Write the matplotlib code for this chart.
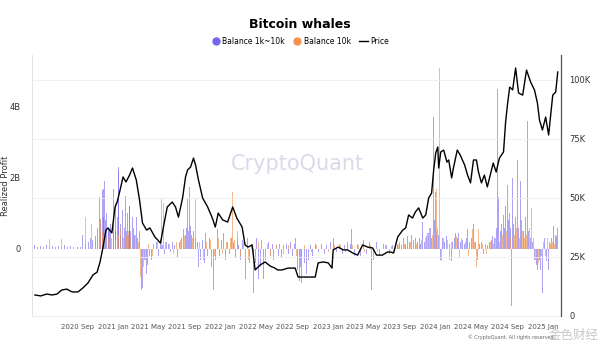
import numpy as np
import pandas as pd
import matplotlib.pyplot as plt
import matplotlib.dates as mdates
from matplotlib.lines import Line2D
from matplotlib.ticker import FuncFormatter

plt.rcParams['font.family'] = ['DejaVu Sans', 'Noto Sans CJK SC']

# BTC price (USD)
price_dates = [
    '2020-04-11', '2020-05-01', '2020-05-21', '2020-06-08', '2020-06-25', '2020-07-11', '2020-07-28',
    '2020-08-15', '2020-09-04', '2020-09-21', '2020-10-08', '2020-10-25', '2020-11-08', '2020-11-18',
    '2020-11-28', '2020-12-08', '2020-12-15', '2020-12-28', '2021-01-08', '2021-01-15', '2021-01-25',
    '2021-02-04', '2021-02-14', '2021-02-26', '2021-03-08', '2021-03-21', '2021-04-01', '2021-04-11',
    '2021-04-25', '2021-05-06', '2021-05-23', '2021-06-11', '2021-06-21', '2021-07-04', '2021-07-21',
    '2021-08-01', '2021-08-11', '2021-08-25', '2021-09-04', '2021-09-11', '2021-09-21', '2021-10-01',
    '2021-10-08', '2021-10-18', '2021-11-01', '2021-11-18', '2021-12-04', '2021-12-14', '2021-12-24',
    '2022-01-08', '2022-01-25', '2022-02-11', '2022-02-25', '2022-03-15', '2022-03-25', '2022-04-04',
    '2022-04-18', '2022-04-28', '2022-05-15', '2022-06-01', '2022-06-18', '2022-07-04', '2022-07-14',
    '2022-07-28', '2022-08-18', '2022-09-11', '2022-09-21', '2022-10-08', '2022-11-01', '2022-11-18',
    '2022-11-28', '2022-12-15', '2023-01-01', '2023-01-14', '2023-01-18', '2023-02-04', '2023-02-21',
    '2023-03-08', '2023-03-25', '2023-04-11', '2023-04-28', '2023-05-15', '2023-06-01', '2023-06-14',
    '2023-07-04', '2023-07-21', '2023-08-01', '2023-08-11', '2023-08-25', '2023-09-11', '2023-09-21',
    '2023-10-01', '2023-10-14', '2023-10-24', '2023-11-04', '2023-11-18', '2023-11-28', '2023-12-08',
    '2023-12-18', '2023-12-25', '2024-01-01', '2024-01-08', '2024-01-11', '2024-01-18', '2024-01-28',
    '2024-02-08', '2024-02-14', '2024-02-24', '2024-03-01', '2024-03-14', '2024-03-24', '2024-04-08',
    '2024-04-18', '2024-04-28', '2024-05-08', '2024-05-18', '2024-05-25', '2024-06-04', '2024-06-14',
    '2024-06-24', '2024-07-04', '2024-07-14', '2024-07-24', '2024-08-04', '2024-08-18', '2024-08-25',
    '2024-09-01', '2024-09-08', '2024-09-18', '2024-09-28', '2024-10-08', '2024-10-22', '2024-11-04',
    '2024-11-18', '2024-12-01', '2024-12-11', '2024-12-18', '2024-12-28', '2025-01-08', '2025-01-18',
    '2025-02-01', '2025-02-11', '2025-02-18',
]
price = [
    8900, 8500, 9300, 8900, 9300, 11000, 11400,
    10200, 10200, 11900, 14000, 17400, 18600, 22900,
    29200, 36400, 37300, 35200, 46200, 48300, 53400,
    58900, 56800, 59700, 62700, 57600, 49100, 39400,
    36400, 37300, 33500, 30900, 37700, 46200, 48300,
    46200, 41900, 50000, 58900, 61900, 63100, 66900,
    64000, 57600, 50000, 46200, 41500, 37700, 43600,
    40700, 39800, 46200, 41500, 37700, 30100, 29200,
    30100, 19500, 21600, 22900, 21200, 20300, 19500,
    19500, 20300, 20300, 16500, 16500, 16500, 16500,
    22500, 22900, 22500, 20300, 28000, 29200, 28000,
    28000, 26700, 25800, 30100, 29200, 28800, 25800,
    25800, 27100, 27100, 26700, 33500, 36400, 37300,
    42800, 41500, 44100, 45800, 41500, 42800, 50000,
    52100, 61900, 69100, 71600, 62700, 69500, 70300,
    65200, 66100, 58500, 62700, 70300, 68200, 64000,
    59700, 56400, 66100, 66100, 61000, 56400, 59700,
    54700, 59700, 64800, 61000, 66900, 69500, 82200,
    90200, 97000, 95800, 105100, 94500, 93600, 104200,
    99100, 95800, 90200, 83000, 78800, 84300, 76700,
    93600, 94900, 103400,
]

# Realized profit, Balance 1k~10k (billions USD)
mid_dates = [
    '2020-04-11', '2020-04-21', '2020-05-01', '2020-05-11', '2020-05-21', '2020-06-01', '2020-06-11',
    '2020-06-21', '2020-07-01', '2020-07-11', '2020-07-21', '2020-08-01', '2020-08-11', '2020-08-21',
    '2020-09-01', '2020-09-11', '2020-09-21', '2020-10-01', '2020-10-11', '2020-10-18', '2020-10-25',
    '2020-11-01', '2020-11-08', '2020-11-15', '2020-11-18', '2020-11-21', '2020-11-25', '2020-11-28',
    '2020-12-01', '2020-12-04', '2020-12-08', '2020-12-11', '2020-12-15', '2020-12-18', '2020-12-21',
    '2020-12-25', '2021-01-01', '2021-01-04', '2021-01-08', '2021-01-11', '2021-01-15', '2021-01-18',
    '2021-01-21', '2021-01-25', '2021-01-28', '2021-02-01', '2021-02-08', '2021-02-11', '2021-02-15',
    '2021-02-18', '2021-02-21', '2021-02-25', '2021-02-27', '2021-03-01', '2021-03-08', '2021-03-11',
    '2021-03-15', '2021-03-21', '2021-03-25', '2021-04-01', '2021-04-08', '2021-04-11', '2021-04-18',
    '2021-04-25', '2021-04-28', '2021-05-06', '2021-05-13', '2021-05-20', '2021-05-27', '2021-06-04',
    '2021-06-11', '2021-06-18', '2021-06-25', '2021-07-01', '2021-07-08', '2021-07-15', '2021-07-21',
    '2021-07-28', '2021-08-08', '2021-08-15', '2021-08-21', '2021-08-28', '2021-09-04', '2021-09-08',
    '2021-09-11', '2021-09-15', '2021-09-18', '2021-09-21', '2021-09-25', '2021-10-01', '2021-10-08',
    '2021-10-15', '2021-10-18', '2021-10-25', '2021-11-01', '2021-11-08', '2021-11-11', '2021-11-18',
    '2021-11-25', '2021-12-01', '2021-12-08', '2021-12-15', '2021-12-21', '2021-12-28', '2022-01-04',
    '2022-01-11', '2022-01-18', '2022-01-25', '2022-02-01', '2022-02-08', '2022-02-15', '2022-02-21',
    '2022-02-26', '2022-03-04', '2022-03-11', '2022-03-18', '2022-03-25', '2022-04-01', '2022-04-08',
    '2022-04-15', '2022-04-21', '2022-04-28', '2022-05-04', '2022-05-08', '2022-05-15', '2022-05-21',
    '2022-05-28', '2022-06-04', '2022-06-11', '2022-06-18', '2022-06-25', '2022-07-01', '2022-07-08',
    '2022-07-15', '2022-07-21', '2022-07-28', '2022-08-04', '2022-08-11', '2022-08-18', '2022-08-25',
    '2022-09-01', '2022-09-08', '2022-09-11', '2022-09-18', '2022-09-25', '2022-09-28', '2022-10-04',
    '2022-10-11', '2022-10-18', '2022-10-25', '2022-11-01', '2022-11-08', '2022-11-18', '2022-11-28',
    '2022-12-08', '2022-12-18', '2022-12-28', '2023-01-08', '2023-01-18', '2023-01-28', '2023-02-08',
    '2023-02-18', '2023-02-27', '2023-03-08', '2023-03-18', '2023-03-21', '2023-04-01', '2023-04-11',
    '2023-04-21', '2023-05-01', '2023-05-11', '2023-05-21', '2023-05-28', '2023-06-04', '2023-06-14',
    '2023-06-25', '2023-07-08', '2023-07-18', '2023-07-28', '2023-08-08', '2023-08-18', '2023-08-25',
    '2023-09-01', '2023-09-08', '2023-09-15', '2023-09-21', '2023-09-28', '2023-10-04', '2023-10-11',
    '2023-10-18', '2023-10-25', '2023-11-01', '2023-11-08', '2023-11-11', '2023-11-18', '2023-11-25',
    '2023-12-01', '2023-12-08', '2023-12-15', '2023-12-18', '2023-12-25', '2023-12-28', '2024-01-01',
    '2024-01-04', '2024-01-11', '2024-01-18', '2024-01-25', '2024-02-01', '2024-02-08', '2024-02-15',
    '2024-02-22', '2024-02-28', '2024-03-04', '2024-03-08', '2024-03-14', '2024-03-18', '2024-03-25',
    '2024-04-01', '2024-04-08', '2024-04-15', '2024-04-18', '2024-04-25', '2024-05-01', '2024-05-08',
    '2024-05-15', '2024-05-21', '2024-05-28', '2024-06-04', '2024-06-11', '2024-06-18', '2024-06-25',
    '2024-07-01', '2024-07-08', '2024-07-11', '2024-07-18', '2024-07-25', '2024-07-28', '2024-08-01',
    '2024-08-08', '2024-08-11', '2024-08-18', '2024-08-21', '2024-08-25', '2024-09-01', '2024-09-04',
    '2024-09-08', '2024-09-11', '2024-09-15', '2024-09-18', '2024-09-21', '2024-09-28', '2024-10-04',
    '2024-10-08', '2024-10-15', '2024-10-18', '2024-10-25', '2024-11-01', '2024-11-08', '2024-11-11',
    '2024-11-18', '2024-11-25', '2024-12-01', '2024-12-08', '2024-12-11', '2024-12-18', '2024-12-21',
    '2024-12-28', '2025-01-04', '2025-01-11', '2025-01-18', '2025-01-21', '2025-01-28', '2025-02-04',
    '2025-02-11', '2025-02-14', '2025-02-18',
]
mid_profit = [
    0.12, 0.06, 0.08, 0.05, 0.10, 0.04, 0.07,
    0.05, 0.09, 0.06, 0.10, 0.05, 0.07, 0.04,
    0.06, 0.05, 0.40, 0.15, 0.20, 0.30, 0.25,
    0.35, 0.60, 1.45, 0.85, 0.70, 1.65, 1.70,
    0.90, 1.90, 0.80, 1.00, 0.60, 0.50, 0.55,
    0.70, 1.70, 0.60, 1.30, 0.50, 0.90, 2.30,
    2.20, 0.70, 0.40, 1.10, 0.60, 1.50, 0.50,
    1.00, 0.40, 1.20, 1.20, 0.50, 0.90, 0.60,
    0.40, 0.90, 0.30, 0.50, -1.15, -1.10, -0.30,
    -0.70, -0.45, -0.20, -0.30, 0.15, 0.20, -0.20,
    0.25, 0.10, -0.15, 0.20, 0.15, -0.10, 0.20,
    0.10, -0.25, 0.20, 0.30, 0.55, 0.40, 0.60,
    1.40, 0.50, 1.75, 0.65, 0.40, 0.50, 0.30,
    0.20, -0.50, -0.30, 0.25, -0.40, 0.45, -0.20,
    0.30, -0.50, -1.15, -0.30, 0.55, -0.20, 0.25,
    0.45, -0.30, 0.20, -0.15, 0.30, 0.20, -0.25,
    0.30, 0.10, -0.30, 0.25, -0.85, 0.30, -0.40,
    0.15, -1.25, -0.40, 0.30, -0.85, -0.50, 0.25,
    -0.85, -0.30, 0.20, -0.20, 0.15, -0.30, 0.10,
    -0.20, 0.15, -0.25, 0.10, 0.15, -0.15, 0.20,
    -0.20, 0.15, 0.30, -0.60, -0.90, -0.50, -0.95,
    -0.40, -0.70, -0.30, 0.10, -0.20, 0.15, -0.10,
    0.15, -0.15, 0.10, 0.20, 0.30, -0.10, 0.15,
    -0.15, 0.10, 0.20, 0.15, 0.55, -0.20, 0.15,
    -0.20, 0.25, -0.15, 0.20, -1.15, -0.30, 0.20,
    -0.20, 0.15, 0.10, -0.15, 0.10, 0.08, 0.15,
    0.20, 0.10, 0.30, 0.15, 0.35, 0.20, 0.40,
    0.25, 0.30, 0.20, 0.30, 0.15, 0.75, 0.20,
    0.35, 0.45, 0.60, 0.30, 3.70, 0.80, 1.60,
    0.50, 0.40, -0.30, 0.30, 0.20, 0.35, 0.15,
    -0.35, 0.20, 0.30, 0.45, 0.30, 0.45, 0.20,
    0.25, 0.15, 0.30, 0.55, 0.20, 0.30, 0.70,
    0.20, -0.30, 0.15, 0.20, -0.15, 0.15, 0.10,
    0.20, 0.25, 0.35, 0.30, 0.60, 4.50, 1.45,
    0.50, 0.70, 0.95, 0.60, 1.20, 1.80, 0.80,
    1.00, 0.60, -1.60, 2.00, 0.70, 0.90, 2.50,
    0.60, 1.90, 0.80, 0.50, 0.90, 3.60, 0.50,
    0.30, 0.20, -0.30, -0.45, -0.60, -0.30, -0.60,
    -1.25, 0.30, -0.35, -0.60, 0.20, 0.30, 0.65,
    0.40, 0.35, 0.60,
]

# Realized profit, Balance 10k (billions USD)
big_dates = [
    '2020-06-01', '2020-07-11', '2020-09-28', '2020-10-21', '2020-11-01', '2020-11-11', '2020-11-18',
    '2020-11-25', '2020-12-01', '2020-12-08', '2020-12-15', '2020-12-21', '2020-12-28', '2021-01-04',
    '2021-01-11', '2021-01-18', '2021-01-28', '2021-02-04', '2021-02-15', '2021-02-21', '2021-03-01',
    '2021-03-11', '2021-03-18', '2021-03-28', '2021-04-04', '2021-04-15', '2021-04-21', '2021-05-02',
    '2021-05-16', '2021-06-01', '2021-06-14', '2021-06-21', '2021-06-28', '2021-07-11', '2021-07-25',
    '2021-08-04', '2021-08-18', '2021-09-01', '2021-09-28', '2021-10-08', '2021-10-21', '2021-11-04',
    '2021-11-14', '2021-11-28', '2021-12-11', '2021-12-24', '2022-01-08', '2022-01-21', '2022-02-04',
    '2022-02-11', '2022-02-18', '2022-02-26', '2022-03-08', '2022-03-21', '2022-04-04', '2022-04-18',
    '2022-05-01', '2022-05-11', '2022-05-25', '2022-06-08', '2022-06-21', '2022-07-11', '2022-08-01',
    '2022-08-21', '2022-09-14', '2022-10-01', '2022-10-14', '2022-11-04', '2022-11-21', '2022-12-11',
    '2023-01-01', '2023-01-21', '2023-02-11', '2023-03-01', '2023-03-25', '2023-04-14', '2023-05-04',
    '2023-05-25', '2023-06-18', '2023-07-14', '2023-08-04', '2023-08-28', '2023-09-18', '2023-10-08',
    '2023-10-28', '2023-11-14', '2023-11-28', '2023-12-04', '2023-12-11', '2023-12-21', '2024-01-04',
    '2024-01-08', '2024-01-14', '2024-01-21', '2024-01-28', '2024-02-11', '2024-02-18', '2024-02-25',
    '2024-03-11', '2024-03-21', '2024-03-28', '2024-04-11', '2024-04-21', '2024-05-04', '2024-05-11',
    '2024-05-18', '2024-05-25', '2024-06-08', '2024-06-21', '2024-07-04', '2024-07-14', '2024-07-21',
    '2024-08-04', '2024-08-14', '2024-08-28', '2024-09-11', '2024-09-25', '2024-10-01', '2024-10-11',
    '2024-10-21', '2024-10-28', '2024-11-04', '2024-11-14', '2024-11-21', '2024-11-28', '2024-12-04',
    '2024-12-14', '2024-12-24', '2025-01-01', '2025-01-08', '2025-01-14', '2025-01-24', '2025-02-01',
    '2025-02-08',
]
big_profit = [
    0.28, 0.28, 0.90, 0.70, 0.30, 0.40, 0.85,
    0.50, 0.35, 0.60, 0.30, 0.45, 0.30, 0.50,
    0.25, 0.40, 0.60, 0.30, 0.35, 0.50, 0.30,
    0.25, 0.40, 0.20, -0.80, -0.50, -0.30, 0.15,
    -0.20, 0.20, 1.40, 1.30, 0.20, 0.15, -0.15,
    0.20, 0.25, 0.35, 0.30, 1.40, 0.20, -0.30,
    0.20, 0.25, -0.20, 0.30, -0.15, 0.20, 0.30,
    1.60, 0.25, 0.50, -0.20, 0.20, -0.30, 0.15,
    -0.40, 0.20, -0.50, 0.15, -0.20, 0.10, -0.15,
    0.10, -0.20, -0.35, 0.10, -0.10, 0.10, 0.10,
    -0.10, 0.10, 0.10, -0.10, 0.10, 0.10, -0.10,
    0.10, -0.10, 0.10, 0.08, 0.10, 0.15, 0.20,
    0.15, 0.25, 0.30, 0.45, 0.60, 0.40, 1.70,
    0.60, 5.10, -0.35, 0.30, 0.25, -0.30, 0.20,
    0.35, -0.25, 0.30, 0.20, -0.20, 0.55, 0.20,
    -0.50, 0.55, 0.15, -0.15, 0.20, 0.15, 0.30,
    0.20, 0.40, 0.50, 0.30, 0.40, 0.60, 0.30,
    0.50, 0.30, 0.40, 0.60, 1.15, 0.30, -0.30,
    -0.40, -0.20, 0.20, -0.20, 0.30, 0.15, 0.20,
    0.15,
]

x_ticks = ['2020-09-01', '2021-01-01', '2021-05-01', '2021-09-01', '2022-01-01', '2022-05-01',
           '2022-09-01', '2023-01-01', '2023-05-01', '2023-09-01', '2024-01-01', '2024-05-01',
           '2024-09-01', '2025-01-01']

purple = '#7566ec'
orange = '#f4934f'

fig = plt.figure(figsize=(6, 3.48), dpi=100)
ax = fig.add_axes([0.0533, 0.092, 0.8817, 0.75])

ax.bar(pd.to_datetime(mid_dates), np.array(mid_profit) * 1e9, width=3.4, color=purple, alpha=0.6, linewidth=0)
ax.bar(pd.to_datetime(big_dates), np.array(big_profit) * 1e9, width=3.4, color=orange, alpha=0.65, linewidth=0)

ax.set_ylim(-1.89e9, 5.46e9)
ax.set_yticks([0, 2e9, 4e9])
ax.yaxis.set_major_formatter(FuncFormatter(lambda v, p: '0' if v == 0 else f'{v/1e9:.0f}B'))
ax.set_ylabel('Realized Profit', fontsize=6, color='#333333')
ax.yaxis.set_label_coords(-0.042, 0.5)
ax.set_xlim(pd.Timestamp('2020-04-01'), pd.Timestamp('2025-03-01'))
ax.set_xticks(pd.to_datetime(x_ticks))
ax.xaxis.set_major_formatter(mdates.DateFormatter('%Y %b'))
ax.tick_params(axis='x', labelsize=5, colors='#555555', length=0, pad=6)
ax.tick_params(axis='y', labelsize=6, colors='#333333', length=0, pad=8)
for s in ['top', 'right']:
    ax.spines[s].set_visible(False)
ax.spines['left'].set_color('#dddddd')
ax.spines['left'].set_linewidth(0.6)
ax.spines['bottom'].set_color('#e6e6e6')
ax.spines['bottom'].set_linewidth(0.6)

ax2 = ax.twinx()
ax2.plot(pd.to_datetime(price_dates), price, color='black', linewidth=1.0)
ax2.set_ylim(0, 110600)
ax2.set_yticks([0, 25000, 50000, 75000, 100000])
ax2.yaxis.set_major_formatter(FuncFormatter(lambda v, p: '0' if v == 0 else f'{v/1000:.0f}K'))
ax2.tick_params(axis='y', labelsize=6, colors='#333333', length=0, pad=6)
ax2.grid(axis='y', color='#eeeeee', linewidth=0.6)
ax2.set_axisbelow(True)
for s in ['top', 'left', 'bottom']:
    ax2.spines[s].set_visible(False)
ax2.spines['right'].set_color('#555555')
ax2.spines['right'].set_linewidth(0.9)

fig.text(0.495, 0.53, 'CryptoQuant', fontsize=15, color='#c9cbe0', alpha=0.7, ha='center', va='center')

fig.text(0.5, 0.93, 'Bitcoin whales', fontsize=9, fontweight='bold', ha='center', va='center')
handles = [
    Line2D([], [], marker='o', linestyle='', markersize=5, color=purple, label='Balance 1k~10k'),
    Line2D([], [], marker='o', linestyle='', markersize=5, color=orange, label='Balance 10k'),
    Line2D([], [], color='black', linewidth=1.0, label='Price'),
]
fig.legend(handles=handles, loc='center', bbox_to_anchor=(0.5, 0.882), ncol=3, frameon=False,
           fontsize=5.5, handlelength=1.2, handletextpad=0.3, columnspacing=1.0)

# site watermark, bottom right
fig.text(0.997, 0.035, '金色财经', fontsize=9, color='#9a9a9a', alpha=0.55, ha='right', va='center',
         family=['Noto Sans CJK SC', 'DejaVu Sans'])
fig.text(0.925, 0.03, '© CryptoQuant. All rights reserved.', fontsize=3.5, color='#666666', ha='right', va='center')

fig.savefig('out.png', dpi=100)
